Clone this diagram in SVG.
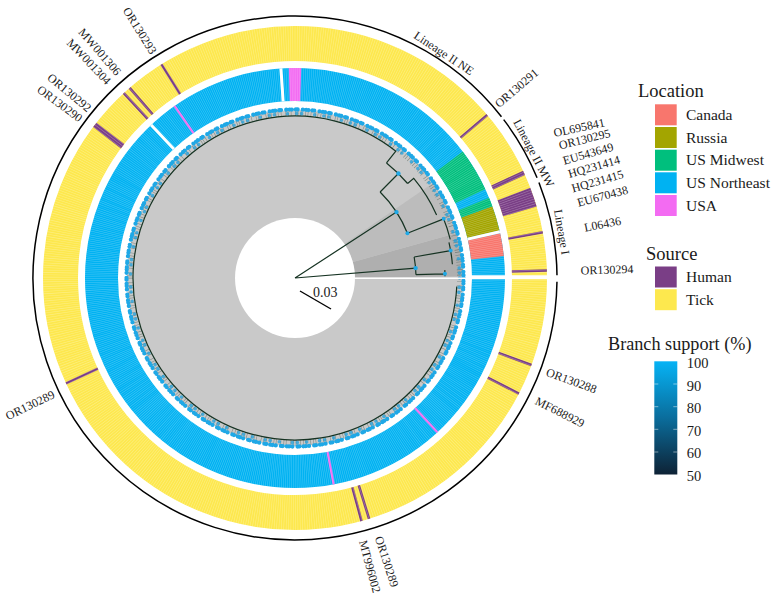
<svg xmlns="http://www.w3.org/2000/svg" width="776" height="599" viewBox="0 0 776 599" font-family="Liberation Serif, Times New Roman, serif">
<style>
.t{font-family:'Liberation Serif','Times New Roman',serif;fill:#1a1a1a}
.tip{font-size:12px}
.lg{font-size:15.5px}
.lt{font-size:18.5px}
.br{fill:none;stroke:#163323;stroke-width:1.2}
.loc{fill:none;stroke-width:33}
.src{fill:none;stroke-width:35}
.hum{stroke:#7A3E86;stroke-width:2.5}
.usa{stroke:#F36BF2;stroke-width:2.2}
.gap{stroke:#fff;stroke-width:3}
.lin{fill:none;stroke:#000;stroke-width:1.5}
.nd{fill:#1fa8e6}
</style>
<defs>
<linearGradient id="cb" x1="0" y1="0" x2="0" y2="1">
<stop offset="0" stop-color="#06B3F5"/>
<stop offset="0.5" stop-color="#0A6D9C"/>
<stop offset="1" stop-color="#0E2235"/>
</linearGradient>
</defs>
<rect width="776" height="599" fill="#fff"/>

<g id="tree">
<circle cx="295" cy="278" r="168" fill="#c9c9c9"/>
<path d="M354.998,277.48 L462.99,276.53 A168,168 0 0 0 456.89,233.10 L352.82,261.97 A60,60 0 0 1 354.998,277.48 Z" fill="#afafaf"/>
<path d="M352.82,261.97 L456.89,233.10 A168,168 0 0 0 433.45,182.84 L344.45,244.02 A60,60 0 0 1 352.82,261.97 Z" fill="#bcbcbc"/>
<circle cx="295" cy="278" r="60" fill="#fff"/>
<g id="branches">
<path class="br" d="M295,278 L396.48,212.10 M295,278 L415.6,268.1"/>
<path class="br" d="M407.42,233.27 A121,121 0 0 0 380.11,191.99"/>
<path class="br" d="M380.11,191.99 L398.40,173.51 M407.61,183.51 A147,147 0 0 0 386.51,162.96"/>
<path class="br" d="M407.61,183.51 L413.74,178.37 A155,155 0 0 1 436.60,214.96"/>
<path class="br" d="M386.51,162.96 L395.85,151.22 A162,162 0 1 0 456.78,286.48"/>
<path class="br" d="M407.42,233.27 L443.66,218.85 M450.25,239.29 A160,160 0 0 0 443.03,217.29"/>
<path class="br" d="M415.95,274.62 A121,121 0 0 0 414.16,256.99 M415.95,274.62 L444.94,273.81 M444.99,276.17 A150,150 0 0 0 444.79,270.15 M414.16,256.99 L450.60,250.56 M452.40,264.23 A158,158 0 0 0 448.95,242.46"/>
<circle cx="295" cy="278" r="165" fill="none" stroke="#163323" stroke-width="6" stroke-dasharray="0.6 2.4 0.6 4.1 0.6 1.7" opacity="0.4"/>
<circle cx="295" cy="278" r="168.5" fill="none" stroke="#1fa8e6" stroke-width="4.3" stroke-linecap="round" stroke-dasharray="0 3.4 0 2.2 0 4.1 0 1.8 0 5.2"/>
<circle cx="295" cy="278" r="164.5" fill="none" stroke="#1fa0dc" stroke-width="3.6" stroke-linecap="round" stroke-dasharray="0 9.3 0 5.1 0 13" opacity="0.75"/>
<circle class="nd" cx="396.48" cy="212.10" r="2.2"/>
<circle class="nd" cx="415.6" cy="268.1" r="2.2"/>
<circle class="nd" cx="398.40" cy="173.51" r="2.2"/>
<circle class="nd" cx="407.42" cy="233.27" r="2"/>
<circle class="nd" cx="444.94" cy="273.81" r="2"/>
<circle class="nd" cx="443.66" cy="218.85" r="2"/>
<circle class="nd" cx="450.60" cy="250.56" r="2"/>
</g>
<line x1="355" y1="278.3" x2="472" y2="278.3" stroke="#fff" stroke-width="1.4"/>
</g>

<g id="ring-location">
<circle class="loc" cx="295" cy="278" r="193.5" stroke="#00B2F2"/>
<path class="loc" stroke="#F8766D" d="M487.44,257.77 A193.5,193.5 0 0 0 484.06,236.78"/>
<path class="loc" stroke="#A3A500" d="M483.46,234.14 A193.5,193.5 0 0 0 476.83,211.82"/>
<path class="loc" stroke="#00BF7D" d="M476.83,211.82 A193.5,193.5 0 0 0 473.77,203.95"/>
<path class="loc" stroke="#00BF7D" d="M470.37,196.22 A193.5,193.5 0 0 0 449.54,161.55"/>
<path class="loc" stroke="#F36BF2" d="M300.74,84.59 A193.5,193.5 0 0 0 289.26,84.59"/>
<line class="usa" x1="193.48" y1="133.01" x2="174.55" y2="105.98"/>
<line class="usa" x1="327.56" y1="451.98" x2="333.63" y2="484.42"/>
<line class="usa" x1="415.03" y1="408.08" x2="437.41" y2="432.33"/>
<circle cx="295" cy="278" r="193.5" fill="none" stroke="#fff" stroke-width="33" stroke-dasharray="0.5 1.35" opacity="0.3"/>
<line class="gap" x1="467.67" y1="239.09" x2="499.86" y2="231.83"/>
<line class="gap" x1="283.12" y1="101.40" x2="280.90" y2="68.47"/>
<line class="gap" x1="173.83" y1="148.97" x2="151.24" y2="124.92"/>
</g>

<g id="ring-source">
<circle class="src" cx="295" cy="278" r="234.5" stroke="#FDE84E"/>
<line class="hum" x1="511.90" y1="271.56" x2="546.89" y2="270.52"/>
<line class="hum" x1="508.40" y1="238.64" x2="542.82" y2="232.29"/>
<path class="src" stroke="#7A3E86" d="M519.84,211.40 A234.5,234.5 0 0 0 513.92,193.96"/>
<line class="hum" style="stroke-width:4.5" x1="492.22" y1="187.50" x2="524.04" y2="172.90"/>
<line class="hum" x1="460.50" y1="137.65" x2="487.19" y2="115.01"/>
<line class="hum" x1="180.01" y1="93.97" x2="161.46" y2="64.29"/>
<line class="hum" x1="152.63" y1="114.23" x2="129.67" y2="87.81"/>
<line class="hum" x1="147.56" y1="118.78" x2="123.78" y2="93.10"/>
<line class="hum" style="stroke-width:5.5" x1="122.61" y1="146.20" x2="94.81" y2="124.94"/>
<line class="hum" x1="97.85" y1="368.70" x2="66.06" y2="383.33"/>
<line class="hum" x1="352.26" y1="487.31" x2="361.50" y2="521.07"/>
<line class="hum" x1="358.81" y1="485.41" x2="369.10" y2="518.86"/>
<line class="hum" x1="487.83" y1="377.53" x2="518.93" y2="393.58"/>
<line class="hum" x1="498.65" y1="352.93" x2="531.50" y2="365.02"/>
<circle cx="295" cy="278" r="234.5" fill="none" stroke="#fff" stroke-width="35" stroke-dasharray="0.6 1.64" opacity="0.3"/>
</g>
<line x1="470" y1="277.3" x2="556" y2="277.3" stroke="#fff" stroke-width="4"/>

<g id="lineages">
<path class="lin" d="M556.99,275.26 A262,262 0 0 0 538.94,182.40"/>
<path class="lin" d="M537.06,177.74 A262,262 0 0 0 503.69,119.59"/>
<path class="lin" d="M501.46,116.70 A262,262 0 1 0 556.97,281.66"/>
<text class="t tip" text-anchor="middle" dy=".35em" transform="translate(444,53) rotate(33.5)">Lineage II NE</text>
<text class="t tip" text-anchor="middle" dy=".35em" transform="translate(534,153) rotate(62.4)">Lineage II MW</text>
<text class="t tip" text-anchor="middle" dy=".35em" transform="translate(562,232) rotate(80.2)">Lineage I</text>
</g>

<g id="tip-labels">
<text class="t tip" text-anchor="middle" dy=".35em" transform="translate(607,269.5) rotate(-1.5)">OR130294</text>
<text class="t tip" text-anchor="middle" dy=".35em" transform="translate(602.5,224) rotate(-11)">L06436</text>
<text class="t tip" text-anchor="middle" dy=".35em" transform="translate(602.5,196) rotate(-15)">EU670438</text>
<text class="t tip" text-anchor="middle" dy=".35em" transform="translate(597.5,181) rotate(-16)">HQ231415</text>
<text class="t tip" text-anchor="middle" dy=".35em" transform="translate(594,166.5) rotate(-16)">HQ231414</text>
<text class="t tip" text-anchor="middle" dy=".35em" transform="translate(588,153.5) rotate(-16)">EU543649</text>
<text class="t tip" text-anchor="middle" dy=".35em" transform="translate(584.5,139) rotate(-14)">OR130295</text>
<text class="t tip" text-anchor="middle" dy=".35em" transform="translate(579,127.5) rotate(-12)">OL695841</text>
<text class="t tip" text-anchor="middle" dy=".35em" transform="translate(516.5,88) rotate(-40.6)">OR130291</text>
<text class="t tip" text-anchor="middle" dy=".35em" transform="translate(571.5,380.5) rotate(20)">OR130288</text>
<text class="t tip" text-anchor="middle" dy=".35em" transform="translate(560,412) rotate(26.5)">MF688929</text>
<text class="t tip" text-anchor="middle" dy=".35em" transform="translate(387,561.5) rotate(72)">OR130289</text>
<text class="t tip" text-anchor="middle" dy=".35em" transform="translate(370,566.5) rotate(75)">MT996002</text>
<text class="t tip" text-anchor="middle" dy=".35em" transform="translate(30,405) rotate(-25.6)">OR130289</text>
<text class="t tip" text-anchor="middle" dy=".35em" transform="translate(60,103.5) rotate(36.6)">OR130290</text>
<text class="t tip" text-anchor="middle" dy=".35em" transform="translate(69.5,92.5) rotate(39.4)">OR130292</text>
<text class="t tip" text-anchor="middle" dy=".35em" transform="translate(89,61.5) rotate(46.4)">MW001304</text>
<text class="t tip" text-anchor="middle" dy=".35em" transform="translate(100,51.7) rotate(49.2)">MW001306</text>
<text class="t tip" text-anchor="middle" dy=".35em" transform="translate(140,30.5) rotate(57.9)">OR130293</text>
</g>

<g id="scale-bar">
<line x1="300" y1="291" x2="331" y2="309" stroke="#000" stroke-width="1.4"/>
<text class="t" x="313" y="297" font-size="14">0.03</text>
</g>

<g id="legend-location">
<text class="t lt" x="638" y="97">Location</text>
<rect x="655" y="104.3" width="21.7" height="21" fill="#F8766D"/>
<rect x="655" y="127" width="21.7" height="21" fill="#A3A500"/>
<rect x="655" y="149.7" width="21.7" height="21" fill="#00BF7D"/>
<rect x="655" y="172.3" width="21.7" height="21" fill="#00B2F2"/>
<rect x="655" y="195" width="21.7" height="21" fill="#F36BF2"/>
<text class="t lg" x="686" y="120">Canada</text>
<text class="t lg" x="686" y="142.7">Russia</text>
<text class="t lg" x="686" y="165.4">US Midwest</text>
<text class="t lg" x="686" y="188">US Northeast</text>
<text class="t lg" x="686" y="210.7">USA</text>
</g>
<g id="legend-source">
<text class="t lt" x="646" y="259.5">Source</text>
<rect x="655" y="266.5" width="21.7" height="21" fill="#7A3E86"/>
<rect x="655" y="289.2" width="21.7" height="21" fill="#FDE84E"/>
<text class="t lg" x="686" y="282.2">Human</text>
<text class="t lg" x="686" y="304.9">Tick</text>
</g>
<g id="legend-support">
<text class="t" x="608" y="350" font-size="18.2">Branch support (%)</text>
<rect x="654.3" y="361.3" width="23" height="113.2" fill="url(#cb)"/>
<path d="M654.3,384 h4 M673.3,384 h4 M654.3,406.7 h4 M673.3,406.7 h4 M654.3,429.3 h4 M673.3,429.3 h4 M654.3,452 h4 M673.3,452 h4" stroke="#fff" stroke-width="0.8" opacity="0.6"/>
<text class="t" x="686.7" y="368" font-size="14.5">100</text>
<text class="t" x="686.7" y="390.5" font-size="14.5">90</text>
<text class="t" x="686.7" y="413" font-size="14.5">80</text>
<text class="t" x="686.7" y="435.6" font-size="14.5">70</text>
<text class="t" x="686.7" y="458.2" font-size="14.5">60</text>
<text class="t" x="686.7" y="480.6" font-size="14.5">50</text>
</g>
</svg>
